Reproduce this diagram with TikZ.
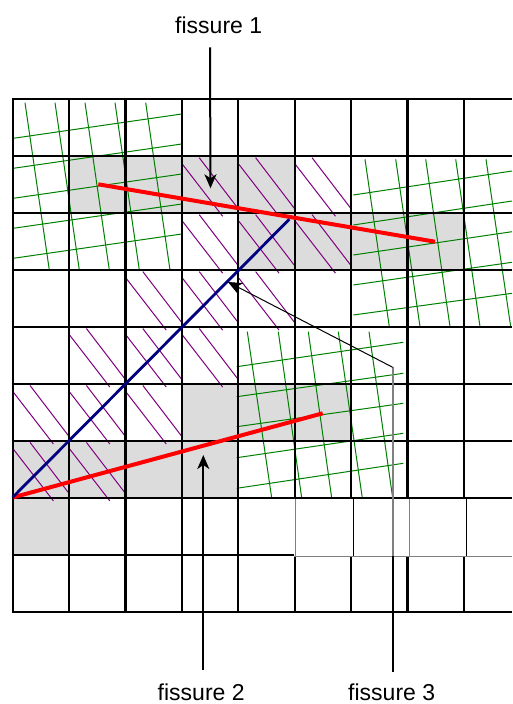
\documentclass[tikz,border=0pt]{standalone}
\usepackage{fontspec}
\setmainfont{Liberation Sans}
\usetikzlibrary{arrows.meta}
\definecolor{cellgray}{RGB}{220,220,220}
\definecolor{hgreen}{RGB}{0,128,0}
\definecolor{hpurple}{RGB}{128,0,128}
\definecolor{fblue}{RGB}{0,0,128}
\definecolor{softgray}{RGB}{128,128,128}
\begin{document}
\begin{tikzpicture}[x=1pt,y=-1pt,
  gridline/.style={line width=2.2pt, black},
  patchline/.style={line width=1pt},
  greenl/.style={hgreen, line width=1pt},
  hatchl/.style={hpurple, line width=1pt},
  fissred/.style={red, line width=4pt},
  fissblue/.style={fblue, line width=2.8pt},
  tipstyle/.style={-{Stealth[length=14pt,width=12pt,inset=4pt]}},
  pointer/.style={black, line width=2pt, tipstyle},
  lbl/.style={font=\fontsize{23}{28}\selectfont, anchor=base, inner sep=0pt}]

\useasboundingbox (0,0) rectangle (512,704);
\fill[white] (0,0) rectangle (512,704);

% gray cells
\foreach \c/\r in {1/1,2/1,3/1,4/1,4/2,5/2,6/2,7/2,3/5,4/5,5/5,0/6,1/6,2/6,3/6,0/7}
  \fill[cellgray] ({12.7+56.41*\c},{99.3+56.93*\r}) rectangle ++(56.41,56.93);

% purple hatching
\foreach \c/\r in {3/1,4/1,5/1,3/2,4/2,5/2,2/3,3/3,4/3,1/4,2/4,3/4,0/5,1/5,2/5,0/6,1/6}{
  \draw[hatchl] ({12.7+56.41*\c+0.7},{99.3+56.93*\r+8.3}) -- ++(40,51.7);
  \draw[hatchl] ({12.7+56.41*\c+17.3},{99.3+56.93*\r+1.5}) -- ++(39,51);
}

% green grids
\foreach \a/\b in {25/49.3,55/79.3,85/109.3,115/139.3,145.7/170}
  \draw[greenl] (\a,102.7) -- (\b,270);
\foreach \a/\b in {138.3/114,168.3/144,198.3/174,228.3/204,258.3/234}
  \draw[greenl] (13.3,\a) -- (181.7,\b);
\foreach \a/\b in {365/389.3,395.7/420,425.7/450,455.7/480,486/510.7}
  \draw[greenl] (\a,159.3) -- (\b,326.7);
\foreach \a/\b in {195/171,225/201,255/231.7,285/262.3,315/293.3}
  \draw[greenl] (353.3,\a) -- (512,\b);
\foreach \a/\b in {247.3/271.7,278.3/301.7,308.3/331.7,338.3/362.3,369/392.7}
  \draw[greenl] (\a,331.7) -- (\b,498);
\foreach \a/\b in {366.7/342.3,396.7/373.3,426.7/403.3,457.7/433.3,488.3/463.3}
  \draw[greenl] (236.7,\a) -- (403.3,\b);

% main grid
\foreach \k in {0,...,8}
  \draw[gridline] ({12.7+56.41*\k},98.2) -- ({12.7+56.41*\k},612.8);
\foreach \k in {0,...,9}
  \draw[gridline] (11.6,{99.3+56.93*\k}) -- (512,{99.3+56.93*\k});

% patched cells in row 8, right part
\fill[white] (294,499.2) rectangle (512,555.6);
\draw[patchline, softgray] (295,499) -- (295,556);
\draw[patchline] (353.3,499) -- (353.3,556);
\draw[patchline, softgray] (409.7,499) -- (409.7,556);
\draw[patchline] (466.7,499) -- (466.7,556);
\draw[patchline, softgray] (294,556) -- (512,556);

% fissures
\draw[fissred] (98.3,184.3) -- (435,241.7);
\draw[fissred] (13.3,497.3) -- (322.7,413.3);
\draw[fissblue] (12.7,497.3) -- (289.3,219.3);

% labels and pointers
\node[lbl] (L1) at (218.7,33.3) {fissure 1};
\node[lbl] (L2) at (201.2,700.5) {fissure 2};
\node[lbl] (L3) at (391.7,700.5) {fissure 3};

\coordinate (f1s) at (210,47.3);
\coordinate (f1t) at (210.5,188.3);
\coordinate (f2s) at (203.3,670);
\coordinate (f2t) at (203.3,455);
\coordinate (f3s) at (392.7,672);
\coordinate (f3m) at (392.7,556);
\coordinate (f3k) at (392.7,367.3);
\coordinate (f3t) at (228,282);

\draw[pointer] (f1s) -- (f1t);
\draw[pointer] (f2s) -- (f2t);
\draw[black, line width=2pt] (f3s) -- (f3m);
\draw[softgray, line width=1.6pt] (f3m) -- (f3k);
\draw[black, line width=1pt, tipstyle] (f3k) -- (f3t);
\end{tikzpicture}
\end{document}
